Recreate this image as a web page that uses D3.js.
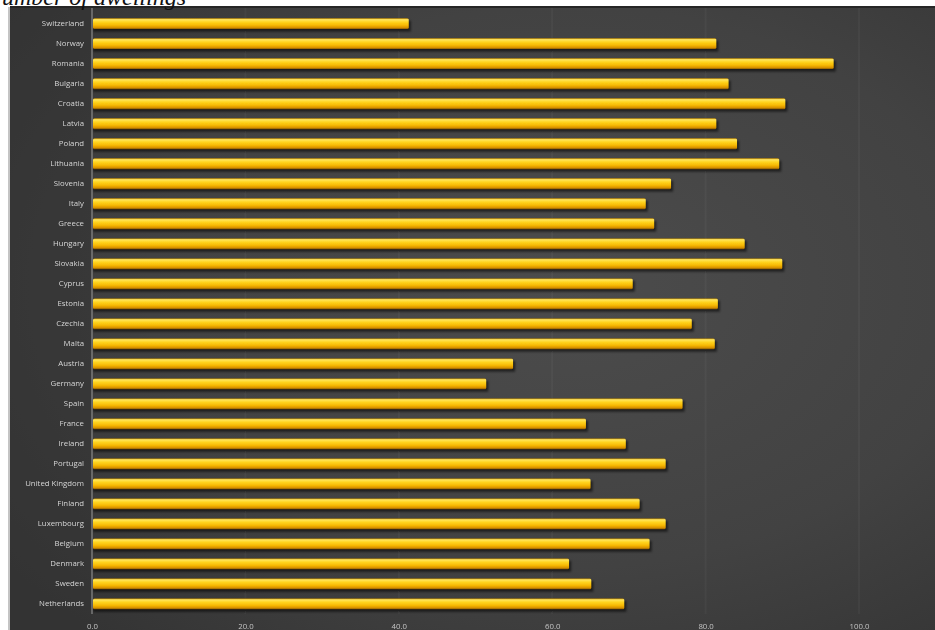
<!DOCTYPE html>
<html>
<head>
<meta charset="utf-8">
<script src="https://cdn.jsdelivr.net/npm/d3@7"></script>
<style>
  html, body { margin: 0; padding: 0; background: #ffffff; overflow: hidden; }
  svg { display: block; }
</style>
</head>
<body>
<svg id="chart" width="935" height="630"></svg>
<script>
// Countries, top to bottom
const countries = [
  "Switzerland", "Norway", "Romania", "Bulgaria", "Croatia", "Latvia", "Poland",
  "Lithuania", "Slovenia", "Italy", "Greece", "Hungary", "Slovakia", "Cyprus",
  "Estonia", "Czechia", "Malta", "Austria", "Germany", "Spain", "France",
  "Ireland", "Portugal", "United Kingdom", "Finland", "Luxembourg", "Belgium",
  "Denmark", "Sweden", "Netherlands"
];

// Share of owner-occupied dwellings (%)
const values = [
  41.3, 81.4, 96.7, 83.0, 90.4, 81.4, 84.1,
  89.6, 75.5, 72.2, 73.3, 85.1, 90.0, 70.5,
  81.6, 78.2, 81.2, 54.9, 51.4, 77.0, 64.4,
  69.6, 74.8, 65.0, 71.4, 74.8, 72.7,
  62.2, 65.1, 69.4
];

// Value axis ticks
const xTicks = [0, 20, 40, 60, 80, 100];

const titleText = "Number of dwellings";

const W = 935, H = 630;
const svg = d3.select("#chart");
const defs = svg.append("defs");

// Panel background: dark charcoal with a soft light centre
const bgGrad = defs.append("radialGradient")
  .attr("id", "bgGrad")
  .attr("cx", "0.6").attr("cy", "0.45").attr("r", "0.75");
bgGrad.append("stop").attr("offset", "0").attr("stop-color", "#4c4c4c");
bgGrad.append("stop").attr("offset", "0.6").attr("stop-color", "#424242");
bgGrad.append("stop").attr("offset", "1").attr("stop-color", "#343434");

// Glossy gold bar fill
const barGrad = defs.append("linearGradient")
  .attr("id", "barGrad").attr("x1", 0).attr("y1", 0).attr("x2", 0).attr("y2", 1);
[
  [0.00, "#c08a00"],
  [0.12, "#ffe660"],
  [0.35, "#ffd41e"],
  [0.65, "#f6b700"],
  [0.88, "#d48e00"],
  [1.00, "#7e5200"]
].forEach(([o, c]) => barGrad.append("stop").attr("offset", o).attr("stop-color", c));

const shadow = defs.append("filter").attr("id", "barShadow")
  .attr("x", "-5%").attr("y", "-50%").attr("width", "110%").attr("height", "250%");
shadow.append("feGaussianBlur").attr("stdDeviation", 1.2);

const soften = defs.append("filter").attr("id", "soften");
soften.append("feGaussianBlur").attr("stdDeviation", 0.3);

// Page frame
svg.append("line")
  .attr("x1", 9).attr("x2", 9).attr("y1", 7).attr("y2", H)
  .attr("stroke", "#c4c4c4").attr("stroke-width", 2);

svg.append("rect")
  .attr("x", 10).attr("y", 6).attr("width", W - 10).attr("height", H - 6)
  .attr("fill", "url(#bgGrad)");
svg.append("rect")
  .attr("x", 10).attr("y", 6).attr("width", 82).attr("height", H - 6)
  .attr("fill", "#333333").attr("opacity", 0.6);
svg.append("line")
  .attr("x1", 10).attr("x2", W).attr("y1", 7).attr("y2", 7)
  .attr("stroke", "#262626").attr("stroke-width", 2);

// Title running off the top edge
svg.append("text")
  .attr("x", 186).attr("y", 5)
  .attr("text-anchor", "end")
  .attr("font-family", "'Liberation Serif', 'DejaVu Serif', serif")
  .attr("font-style", "italic")
  .attr("font-size", 24)
  .attr("fill", "#111")
  .text(titleText);

// Scales
const x = d3.scaleLinear().domain([0, 100]).range([92, 859]);
const y = d3.scaleBand().domain(countries).range([8.3, 619.3])
  .paddingInner(0.46).paddingOuter(0.5);

const plot = svg.append("g").attr("filter", "url(#soften)");

// Vertical gridlines
plot.append("g")
  .selectAll("line")
  .data(xTicks.slice(1))
  .join("line")
  .attr("x1", d => x(d)).attr("x2", d => x(d))
  .attr("y1", 8).attr("y2", 614)
  .attr("stroke", "#ffffff").attr("stroke-opacity", 0.035).attr("stroke-width", 2);

// Bar shadows
plot.append("g")
  .selectAll("rect")
  .data(countries)
  .join("rect")
  .attr("x", x(0) + 1)
  .attr("y", d => y(d) + 2.5)
  .attr("width", (d, i) => x(values[i]) - x(0) + 1)
  .attr("height", y.bandwidth())
  .attr("fill", "#000").attr("opacity", 0.55)
  .attr("filter", "url(#barShadow)");

// Bars
plot.append("g")
  .selectAll("rect")
  .data(countries)
  .join("rect")
  .attr("x", x(0) + 1)
  .attr("y", d => y(d))
  .attr("width", (d, i) => x(values[i]) - x(0) - 1)
  .attr("height", y.bandwidth())
  .attr("rx", 1.5)
  .attr("fill", "url(#barGrad)");

// Category axis
const yAxis = plot.append("g")
  .attr("transform", `translate(${x(0)},0)`)
  .call(d3.axisLeft(y).tickSize(0).tickPadding(8));
yAxis.select(".domain").attr("stroke", "#8a8a8a").attr("stroke-width", 1.2)
  .attr("d", `M0,8V614`);
yAxis.selectAll("text")
  .attr("fill", "#d6d6d6")
  .attr("font-family", "'Open Sans', 'Noto Sans', sans-serif")
  .attr("font-size", 7.8);

// Value axis
const xAxis = plot.append("g")
  .attr("transform", `translate(0,618)`)
  .call(d3.axisBottom(x).tickValues(xTicks).tickFormat(d3.format(".1f")).tickSize(0).tickPadding(5));
xAxis.select(".domain").remove();
xAxis.selectAll("text")
  .attr("fill", "#c4c4c4")
  .attr("font-family", "'Open Sans', 'Noto Sans', sans-serif")
  .attr("font-size", 7.8);
</script>
</body>
</html>
